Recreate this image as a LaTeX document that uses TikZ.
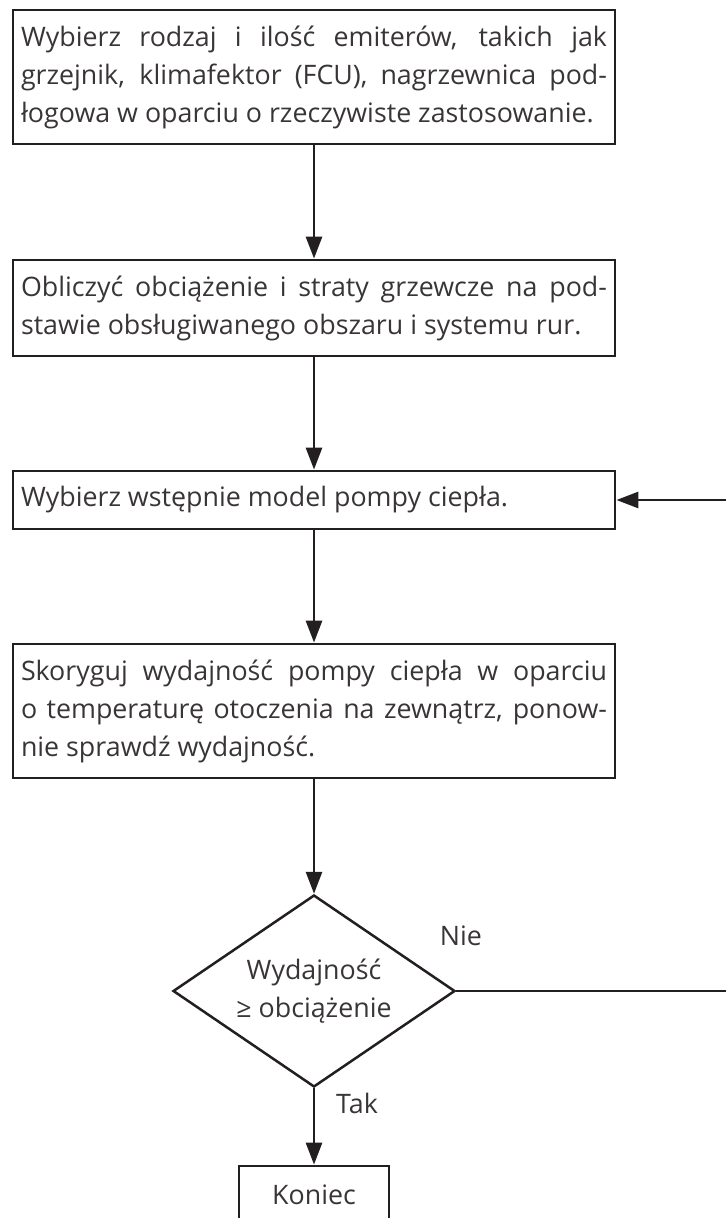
\documentclass[tikz,border=0pt]{standalone}
\usepackage{fontspec}
\setmainfont{Open Sans}
\usetikzlibrary{shapes.geometric,arrows.meta}
\definecolor{ink}{HTML}{231F20}

\begin{document}
\begin{tikzpicture}[x=0.5pt, y=-0.5pt,
    font=\fontsize{13.4}{19}\selectfont, text=ink!90,
    procbox/.style={draw=ink, line width=1.4pt, text width=293pt, inner xsep=4pt, inner ysep=0pt, align=justify},
    flow/.style={draw=ink, line width=1.4pt, -{Triangle[length=11pt, width=8pt]}}]
    \useasboundingbox (0,0) rectangle (726,1218);

    % Steps
    \node[procbox, minimum height=67pt] (emit) at (314,77)
        {Wybierz rodzaj i ilość emiterów, takich jak\linebreak grzejnik, klimafektor (FCU), nagrzewnica pod-\linebreak łogowa w oparciu o rzeczywiste zastosowanie.};
    \node[procbox, minimum height=48pt] (load) at (314,308)
        {Obliczyć obciążenie i straty grzewcze na pod-\linebreak stawie obsługiwanego obszaru i systemu rur.};
    \node[procbox, minimum height=29pt] (model) at (314,500)
        {Wybierz wstępnie model pompy ciepła.};
    \node[procbox, minimum height=67pt] (correct) at (314,711)
        {Skoryguj wydajność pompy ciepła w oparciu\linebreak o temperaturę otoczenia na zewnątrz, ponow-\linebreak nie sprawdź wydajność.};

    % Decision
    \node[diamond, draw=ink, line width=1.25pt, aspect=1.47, inner sep=0pt,
        minimum width=141pt, minimum height=96pt, align=center] (check) at (314,991)
        {Wydajność\\≥ obciążenie};
    \node[draw=ink, line width=1.4pt, minimum width=75pt, minimum height=29pt] (done) at (314,1195) {Koniec};

    \draw[flow] (emit) -- (load);
    \draw[flow] (load) -- (model);
    \draw[flow] (model) -- (correct);
    \draw[flow] (correct) -- (check);
    \draw[flow] (check) -- (done);

    % Loop back (runs past the right edge)
    \coordinate (loopdown) at (731,991);
    \coordinate (loopup) at (731,500);
    \draw[flow] (check.east) -- (loopdown) -- (loopup) -- (model.east);

    \node (lblno) at (461,936) {Nie};
    \node (lblyes) at (357,1103) {Tak};
\end{tikzpicture}
\end{document}
